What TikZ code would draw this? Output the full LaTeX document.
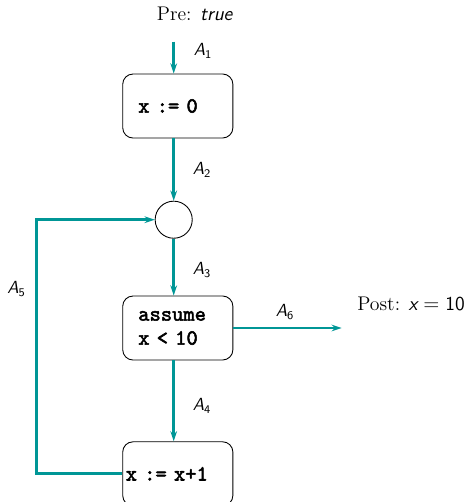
\documentclass[tikz,border=0pt]{standalone}
\usepackage{amsmath}
\usepackage{fontspec}
\newfontfamily\codefont{lmmono10-regular.otf}[FakeBold=2.4]
\usepackage{tikz}
\usepackage{xcolor}
\usetikzlibrary{arrows.meta, positioning}

\definecolor{flowcol}{RGB}{0,150,150}
\newcommand{\arc}[1]{$\textsf{\itshape A}_{\textsf{#1}}$}
\newcommand{\codestyle}{\fontsize{14.7}{16.4}\selectfont\codefont}

\begin{document}
\begin{tikzpicture}[x=0.024cm, y=-0.024cm, >={Stealth[length=7pt,width=4.6pt,inset=2.4pt]},
    font=\fontsize{13.5}{16}\selectfont,
    stmt/.style={draw, line width=0.6pt, rounded corners=7pt, minimum width=2.63cm,
      minimum height=1.536cm, align=left, text width=1.9cm, inner xsep=0.372cm,
      font=\codestyle},
    joint/.style={draw, line width=0.6pt, circle, minimum size=0.89cm, inner sep=0pt},
    flow/.style={->, draw=flowcol, line width=1.9pt},
    arclbl/.style={font=\fontsize{12}{14}\selectfont}]
  \useasboundingbox (0,0) rectangle (471,502);
  % ---- statements ----
  \node (pre) at (195,14) {Pre: \textsf{\itshape true}};
  \node[stmt] (init) at (177.8,106) {x := 0};
  \node[joint] (join) at (173.7,219.7) {};
  \node[stmt] (cond) at (177.8,328) {assume\\x < 10};
  \node[stmt, text width=2.5cm, inner xsep=0.072cm] (incr) at (177.8,473.8) {x := x+1};
  \node (post) at (411,304) {Post: $\textsf{\itshape x} = \textsf{10}$};
  \coordinate (in) at (173.7,41.7);
  \coordinate (out) at (341.7,328);
  % ---- flow ----
  \draw[flow] (in) -- (in |- init.north);
  \draw[flow] (init.south -| join) -- (join.north);
  \draw[flow] (join.south) -- (join.south |- cond.north);
  \draw[flow] (cond.south -| join) -- (join |- incr.north);
  \draw[flow] (cond.east) -- (out);
  \draw[flow] (incr.west) -- ++(-85.5,0) |- (join.west);
  % ---- arc labels ----
  \node[arclbl] (l1) at (203,51) {\arc{1}};
  \node[arclbl] (l2) at (202,170) {\arc{2}};
  \node[arclbl] (l3) at (202,270) {\arc{3}};
  \node[arclbl] (l4) at (202,406) {\arc{4}};
  \node[arclbl] (l5) at (16.5,289) {\arc{5}};
  \node[arclbl] (l6) at (285,312) {\arc{6}};
\end{tikzpicture}
\end{document}
